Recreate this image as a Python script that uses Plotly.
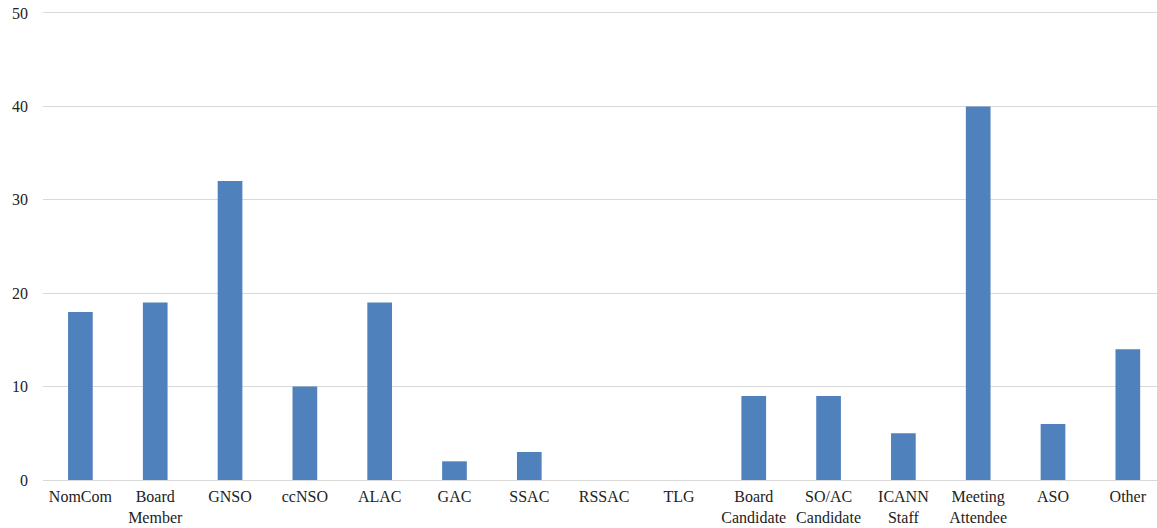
import plotly.graph_objects as go

categories = ["NomCom", "Board<br>Member", "GNSO", "ccNSO", "ALAC", "GAC", "SSAC",
              "RSSAC", "TLG", "Board<br>Candidate", "SO/AC<br>Candidate",
              "ICANN<br>Staff", "Meeting<br>Attendee", "ASO", "Other"]
counts = [18, 19, 32, 10, 19, 2, 3, 0, 0, 9, 9, 5, 40, 6, 14]
y_ticks = [0, 10, 20, 30, 40, 50]

fig = go.Figure()
fig.add_trace(go.Bar(
    x=list(range(len(categories))),
    y=counts,
    marker=dict(color="#4F81BD", line=dict(width=0)),
    width=0.33,
    hoverinfo="x+y",
))

fig.update_layout(
    width=1157,
    height=528,
    margin=dict(l=43, r=0, t=10, b=48, autoexpand=False),
    paper_bgcolor="white",
    plot_bgcolor="white",
    showlegend=False,
    font=dict(family="Liberation Serif", size=16, color="#222222"),
    xaxis=dict(
        range=[-0.5, 14.39],
        tickmode="array",
        tickvals=list(range(len(categories))),
        ticktext=categories,
        showgrid=False,
        showline=False,
        ticks="",
        zeroline=False,
        ticklabelstandoff=5,
        automargin=False,
        ticklabeloverflow="allow",
    ),
    yaxis=dict(
        range=[0, 50.32],
        tickvals=y_ticks,
        showgrid=True,
        gridcolor="#D9D9D9",
        gridwidth=1,
        zeroline=True,
        zerolinecolor="#D9D9D9",
        zerolinewidth=1,
        ticks="",
        ticklabelstandoff=14,
        automargin=False,
        ticklabeloverflow="allow",
    ),
)

# drop the default body margin so the figure sits flush in the window
fig.write_html("out.html", config=dict(displayModeBar=False),
               post_script="document.body.style.margin='0';")
